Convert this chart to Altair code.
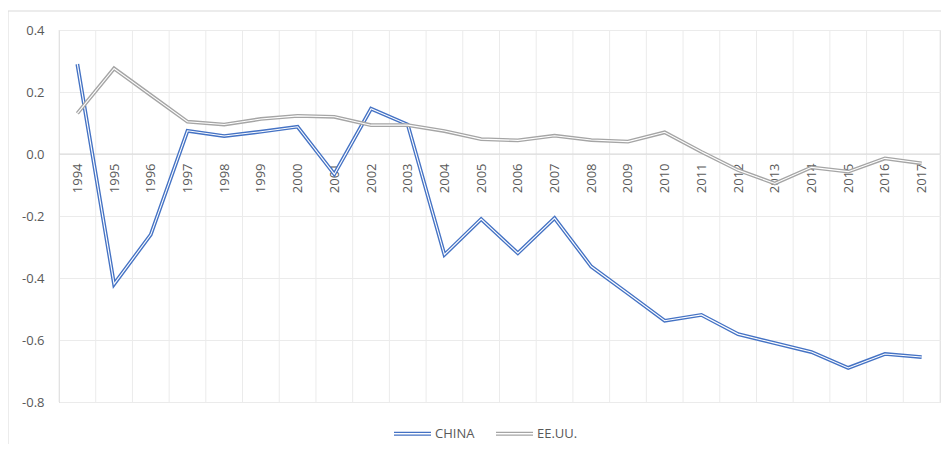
import altair as alt
import pandas as pd

years = list(range(1994, 2018))
china = [0.29, -0.42, -0.26, 0.075, 0.058, 0.072, 0.088, -0.065, 0.146, 0.095,
         -0.325, -0.21, -0.32, -0.207, -0.363, -0.45, -0.538, -0.519, -0.581, -0.61,
         -0.639, -0.69, -0.645, -0.655]
eeuu = [0.131, 0.276, 0.19, 0.104, 0.095, 0.113, 0.123, 0.12, 0.093, 0.093,
        0.074, 0.048, 0.044, 0.059, 0.045, 0.04, 0.07, 0.007, -0.052, -0.095,
        -0.043, -0.057, -0.014, -0.03]
series_names = ["CHINA", "EE.UU."]
series_colors = ["#4472C4", "#A5A5A5"]
y_ticks = [-0.8, -0.6, -0.4, -0.2, 0.0, 0.2, 0.4]

rows = []
for name, vals in zip(series_names, [china, eeuu]):
    for yr, v in zip(years, vals):
        rows.append({"year": yr, "value": v, "serie": name})
df = pd.DataFrame(rows)

bounds = pd.DataFrame({"b": [y - 0.5 for y in years] + [years[-1] + 0.5]})

FONT = "Open Sans"
TXT = "#595959"

xscale = alt.Scale(domain=[years[0] - 0.5, years[-1] + 0.5], nice=False, zero=False)
yscale = alt.Scale(domain=[-0.8, 0.4], nice=False, zero=False)

W, H = 881, 372

x_axis = alt.Axis(values=years, format="d", title=None, grid=False, ticks=False,
                  domain=False, labelAngle=270, labelAlign="right",
                  labelBaseline="middle", labelPadding=10, offset=-249,
                  labelFont=FONT, labelFontSize=13, labelColor=TXT,
                  labelOverlap=False, labelBound=False, labelFlush=False)
y_axis = alt.Axis(values=y_ticks, title=None, grid=True, gridColor="#EBEBEB",
                  ticks=False, domain=True, domainColor="#D9D9D9",
                  labelPadding=15, labelFont=FONT, labelFontSize=13,
                  labelColor=TXT, labelFlush=False, labelBound=False, labelOverlap=False,
                  labelExpr="(datum.value < -0.0001 ? '-' : '') + format(abs(datum.value), '.1f')")

base = alt.Chart(df)

vgrid = alt.Chart(bounds).mark_rule(color="#EBEBEB", strokeWidth=1).encode(
    x=alt.X("b:Q", scale=xscale, axis=x_axis)
)

zero_line = alt.Chart(pd.DataFrame({"z": [0.0]})).mark_rule(color="#D9D9D9", strokeWidth=1).encode(
    y=alt.Y("z:Q", scale=yscale, axis=y_axis)
)

layers = [vgrid, zero_line]
for name, col in zip(series_names, series_colors):
    thick = base.transform_filter(alt.datum.serie == name).mark_line(
        strokeWidth=3.8, strokeJoin="miter"
    ).encode(
        x=alt.X("year:Q", scale=xscale, axis=x_axis),
        y=alt.Y("value:Q", scale=yscale, axis=y_axis),
        color=alt.Color("serie:N",
                        scale=alt.Scale(domain=series_names, range=series_colors),
                        legend=alt.Legend(title=None, orient="none", direction="horizontal",
                                          legendX=334, legendY=384,
                                          symbolType="M-1,-0.07H1M-1,0.07H1",
                                          symbolSize=1369, symbolStrokeWidth=1.3,
                                          symbolFillColor="transparent",
                                          labelFont=FONT, labelFontSize=13, labelColor=TXT,
                                          labelOffset=3, columnPadding=18)),
    )
    inner = base.transform_filter(alt.datum.serie == name).mark_line(
        strokeWidth=1.1, color="white", strokeJoin="miter"
    ).encode(
        x=alt.X("year:Q", scale=xscale, axis=x_axis),
        y=alt.Y("value:Q", scale=yscale, axis=y_axis),
    )
    layers += [thick, inner]

frame = alt.Chart(pd.DataFrame({"f": [0]})).mark_rect(
    fill="transparent", stroke="#D9D9D9", strokeWidth=1
).encode(
    x=alt.value(-51), x2=alt.value(W + 40), y=alt.value(-19), y2=alt.value(H + 80)
)
layers.append(frame)

chart = alt.layer(*layers).properties(
    width=W, height=H,
    autosize=alt.AutoSizeParams(type="none"),
    padding={"left": 51, "top": 22, "right": 1, "bottom": 42},
).configure_view(stroke=None).configure(background="white")

chart.save("out.html", embed_options={"renderer": "svg", "actions": False})
